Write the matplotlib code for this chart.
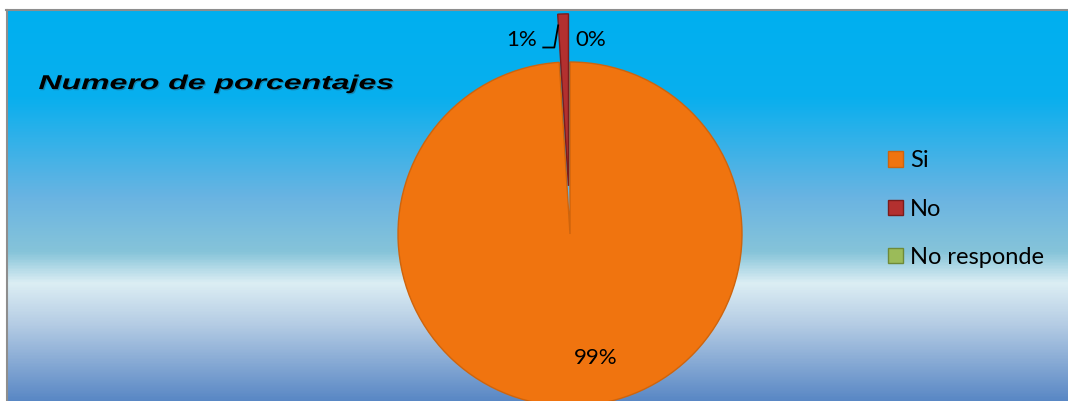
import matplotlib
matplotlib.use('Agg')
import matplotlib.pyplot as plt
import numpy as np
from matplotlib.colors import LinearSegmentedColormap
from matplotlib.patches import Patch, PathPatch
from matplotlib.textpath import TextPath
from matplotlib.font_manager import FontProperties
from matplotlib.transforms import Affine2D
from matplotlib.lines import Line2D

plt.rcParams['font.family'] = ['Lato', 'DejaVu Sans']

categories = ['Si', 'No', 'No responde']
values = [99, 1, 0]
pct_labels = ['99%', '1%', '0%']
colors = ['#F0740F', '#B3302F', '#9BBB59']
edge_colors = ['#CF640C', '#7A1C1C', '#6E8A38']
explode = [0, 0.28, 0]
title = 'Numero de porcentajes'

W, H = 1068, 401
fig = plt.figure(figsize=(W / 100, H / 100), dpi=100)
fig.patch.set_facecolor('white')

# plot area, one data unit per pixel, y measured up from the bottom edge
x0, y0 = 7, 10
ax = fig.add_axes([x0 / W, 0, (W - x0) / W, (H - y0) / H])

# sky-style vertical gradient behind everything
bg_cmap = LinearSegmentedColormap.from_list('bg', [
    (0.00, '#00B0F0'),
    (0.22, '#08AFEE'),
    (0.48, '#6AB4E2'),
    (0.62, '#86C4D9'),
    (0.70, '#DCEEF4'),
    (0.80, '#B7CEE5'),
    (1.00, '#5A88C5'),
])
grad = np.linspace(0, 1, 400).reshape(-1, 1)
ax.imshow(grad, extent=(x0, W, 0, H - y0), aspect='auto', cmap=bg_cmap,
          origin='upper', zorder=0)

cx, cy, R = 570, 167, 172
# pie() offsets exploded wedges in absolute units, so scale by the radius
wedges, _ = ax.pie(values, colors=colors, explode=[e * R for e in explode],
                   startangle=90, counterclock=False, center=(cx, cy), radius=R,
                   wedgeprops=dict(linewidth=1.0))
for w, ec, v in zip(wedges, edge_colors, values):
    w.set_edgecolor(ec)
    w.set_zorder(2)
    w.set_clip_on(True)
    if v == 0:
        w.set_linewidth(0)

ax.set_xlim(x0, W)
ax.set_ylim(0, H - y0)
ax.set_aspect('auto')
ax.axis('off')

# 99% inside the big slice
si = wedges[0]
mid = np.deg2rad((si.theta1 + si.theta2) / 2)
ax.text(si.center[0] + 0.72 * R * np.cos(mid), si.center[1] + 0.72 * R * np.sin(mid),
        pct_labels[0], ha='left', va='center', fontsize=16, zorder=4)

# 1% with a leader line to the exploded slice
no = wedges[1]
a = np.deg2rad(no.theta2)
ax_pt = no.center[0] + 0.94 * R * np.cos(a)
ay_pt = no.center[1] + 0.94 * R * np.sin(a)
knee_x, knee_y = ax_pt - 4, ay_pt - 23
ax.plot([ax_pt, knee_x, knee_x - 12], [ay_pt, knee_y, knee_y],
        color='black', lw=1.3, zorder=4, solid_capstyle='butt')
ax.text(knee_x - 17, knee_y + 8, pct_labels[1], ha='right', va='center',
        fontsize=16, zorder=4)

# 0% to the right of the top
nr = wedges[2]
ax.text(nr.center[0] + 5, knee_y + 8, pct_labels[2], ha='left', va='center',
        fontsize=16, zorder=4)

# title, bold italic and stretched wide, with a soft shadow
tp = TextPath((0, 0), title, size=20,
              prop=FontProperties(family='Liberation Sans', weight='bold', style='italic'))
ext = tp.get_extents()
sx = 354 / ext.width
sy = 1.0
tx, ty = 39, H - 89
for dx, dy, col, alpha in [(1.2, -1.2, '#2A3A4A', 0.35), (0, 0, 'black', 1.0)]:
    tr = Affine2D().scale(sx, sy).translate(tx - ext.x0 * sx + dx, ty + dy) + ax.transData
    ax.add_patch(PathPatch(tp, transform=tr, facecolor=col, edgecolor='none',
                           alpha=alpha, zorder=5))

handles = [Patch(facecolor=c, edgecolor=ec, linewidth=1) for c, ec in zip(colors, edge_colors)]
ax.legend(handles, categories, loc='center left', bbox_to_anchor=(888, H - 209),
          bbox_transform=ax.transData, frameon=False, fontsize=17,
          handlelength=0.62, handleheight=0.62, handletextpad=0.3,
          labelspacing=1.15, borderpad=0, borderaxespad=0)

# gray frame on the top and left edges
fig.add_artist(Line2D([6 / W, 1], [1 - 10 / H, 1 - 10 / H], color='#8E8E8E', lw=1.5,
                      transform=fig.transFigure))
fig.add_artist(Line2D([6.5 / W, 6.5 / W], [0, 1 - 10 / H], color='#8E8E8E', lw=1.5,
                      transform=fig.transFigure))

fig.savefig('out.png', dpi=100)
